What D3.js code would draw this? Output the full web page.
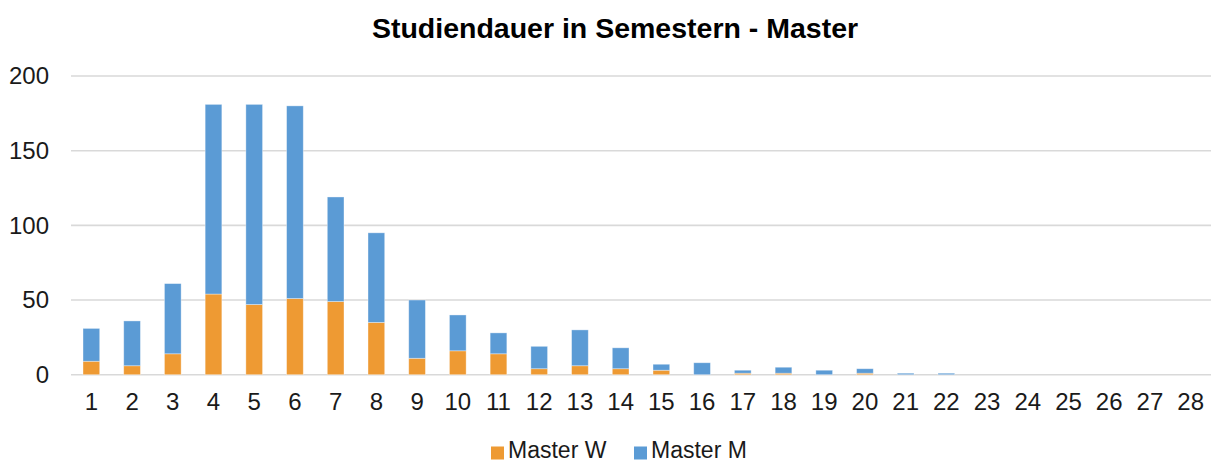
<!DOCTYPE html>
<html>
<head>
<meta charset="utf-8">
<script src="https://cdn.jsdelivr.net/npm/d3@7"></script>
<style>
  html, body { margin: 0; padding: 0; background: #fff; }
  svg { display: block; font-family: "Liberation Sans", Arial, sans-serif; }
</style>
</head>
<body>
<svg id="chart" width="1211" height="463"></svg>
<script>
// Semester counts (1..28) and headcounts per group
const semesters = d3.range(1, 29).map(String);
const masterW = [9, 6, 14, 54, 47, 51, 49, 35, 11, 16, 14, 4, 6, 4, 3, 0, 1, 1, 0, 1, 0, 0, 0, 0, 0, 0, 0, 0];
const masterM = [22, 30, 47, 127, 134, 129, 70, 60, 39, 24, 14, 15, 24, 14, 4, 8, 2, 4, 3, 3, 1, 1, 0, 0, 0, 0, 0, 0];
const yTicks = [0, 50, 100, 150, 200];
const seriesNames = ["Master W", "Master M"];
const seriesColors = ["#EE9A33", "#5B9BD5"];

const svg = d3.select("#chart");
const plot = { left: 71, right: 1211, top: 76, bottom: 374.7 };

const x = d3.scaleBand()
  .domain(semesters)
  .range([plot.left, plot.right])
  .paddingInner(0.59)
  .paddingOuter(0.295);

const y = d3.scaleLinear()
  .domain([0, 200])
  .range([plot.bottom, plot.top]);

// Title
svg.append("text")
  .attr("x", 615)
  .attr("y", 38)
  .attr("text-anchor", "middle")
  .attr("font-size", 28.5)
  .attr("font-weight", "bold")
  .attr("fill", "#000")
  .text("Studiendauer in Semestern - Master");

// Horizontal gridlines
svg.append("g")
  .selectAll("line")
  .data(yTicks)
  .join("line")
  .attr("x1", plot.left)
  .attr("x2", plot.right)
  .attr("y1", d => y(d))
  .attr("y2", d => y(d))
  .attr("stroke", "#D9D9D9")
  .attr("stroke-width", 1.6);

// Y axis labels
const yAxis = d3.axisLeft(y).tickValues(yTicks).tickSize(0).tickPadding(0);
svg.append("g")
  .attr("transform", `translate(49,0)`)
  .call(yAxis)
  .call(g => g.select(".domain").remove())
  .call(g => g.selectAll("text")
    .attr("font-size", 24)
    .attr("font-family", "Liberation Sans, Arial, sans-serif")
    .attr("fill", "#1a1a1a"));

// Stacked bars
const rows = semesters.map((s, i) => ({ sem: s, "Master W": masterW[i], "Master M": masterM[i] }));
const stacked = d3.stack().keys(seriesNames)(rows);

svg.append("g")
  .selectAll("g")
  .data(stacked)
  .join("g")
  .attr("fill", (d, i) => seriesColors[i])
  .selectAll("rect")
  .data(d => d.filter(p => p[1] - p[0] > 0))
  .join("rect")
  .attr("x", d => x(d.data.sem))
  .attr("width", x.bandwidth())
  .attr("y", d => y(d[1]))
  .attr("height", d => y(d[0]) - y(d[1]))
  .attr("stroke", "rgba(255,255,255,0.45)")
  .attr("stroke-width", 0.8);

// X axis labels
const xAxis = d3.axisBottom(x).tickSize(0).tickPadding(0);
svg.append("g")
  .attr("transform", `translate(0,393)`)
  .call(xAxis)
  .call(g => g.select(".domain").remove())
  .call(g => g.selectAll("text")
    .attr("dy", "0.72em")
    .attr("font-size", 24)
    .attr("font-family", "Liberation Sans, Arial, sans-serif")
    .attr("fill", "#1a1a1a"));

// Legend
const legendItems = [
  { name: seriesNames[0], color: seriesColors[0], x: 491 },
  { name: seriesNames[1], color: seriesColors[1], x: 634 }
];
const legend = svg.append("g");
legendItems.forEach(item => {
  legend.append("rect")
    .attr("x", item.x)
    .attr("y", 446.5)
    .attr("width", 13)
    .attr("height", 13)
    .attr("fill", item.color);
  legend.append("text")
    .attr("x", item.x + 17)
    .attr("y", 458)
    .attr("font-size", 23)
    .attr("fill", "#1a1a1a")
    .text(item.name);
});
</script>
</body>
</html>
